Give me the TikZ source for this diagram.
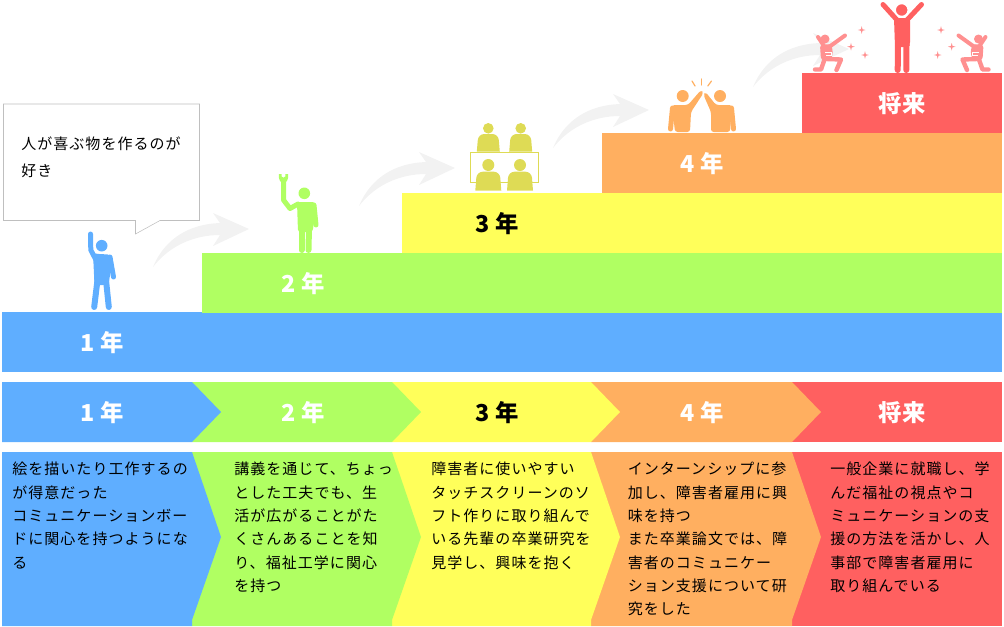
\documentclass[tikz,border=0pt]{standalone}
\usepackage{fontspec}
\setmainfont{Noto Sans CJK JP}[LetterSpace=7]
\newfontfamily\jpbold{Noto Sans CJK JP}[Scale=1]
\definecolor{ichi}{HTML}{5FAEFF}
\definecolor{ni}{HTML}{B0FF62}
\definecolor{san}{HTML}{FFFF5A}
\definecolor{yon}{HTML}{FFAF60}
\definecolor{mirai}{HTML}{FF6060}
\definecolor{mikan}{HTML}{DEDB55}
\definecolor{usuaka}{HTML}{FF9090}
\definecolor{yajirushi}{HTML}{F2F2F2}
\tikzset{
    nenlabel/.style={font=\jpbold\bfseries\fontsize{17.5}{20}\selectfont},
    setsumei/.style={anchor=north west,inner sep=0pt,align=left,
        font=\fontsize{11.25}{17.5}\selectfont},
    te/.style={line cap=round,line join=round,line width=3.75pt},
    ashi/.style={line cap=round,line join=round,line width=4.5pt}
}
\begin{document}
\begin{tikzpicture}[x=0.75pt,y=-0.75pt]
            \useasboundingbox (0,0) rectangle (1004,626);

            % 階段
            \foreach \sx/\sy/\scol in {2/312/ichi,202/253/ni,402/193/san,602/133/yon,802/73/mirai}
                \fill[\scol] (\sx,\sy) rectangle (1002,\sy+60);
            \fill[white] (0,372) rectangle (1004,382);
            \node[nenlabel,white] (kai1) at (102,343) {1 年};
            \node[nenlabel,white] (kai2) at (303,284) {2 年};
            \node[nenlabel] (kai3) at (497,224) {3 年};
            \node[nenlabel,white] (kai4) at (702,164) {4 年};
            \node[nenlabel,white] (kai5) at (902,104) {将来};

            % 矢印
            \foreach \dx/\dy in {0/0,206/-61,400/-119,600/-180}
                \fill[yajirushi,shift={(\dx,\dy)}] (153,267)
                    .. controls (165,238) and (190,224) .. (220,223)
                    -- (213,213) -- (249,229) -- (213,246) -- (220,235)
                    .. controls (195,235) and (170,245) .. (153,267) -- cycle;

            % 帯
            \fill[mirai] (792,382) rectangle (1002,442);
            \foreach \xa/\xb/\scol in {591/792/yon,392/591/san,192/392/ni,2/192/ichi}
                \fill[\scol] (\xa,382) -- (\xb,382) -- (\xb+29,412) -- (\xb,442) -- (\xa,442) -- cycle;
            \node[nenlabel,white] (obi1) at (102,413) {1 年};
            \node[nenlabel,white] (obi2) at (303,413) {2 年};
            \node[nenlabel] (obi3) at (497,413) {3 年};
            \node[nenlabel,white] (obi4) at (702,413) {4 年};
            \node[nenlabel,white] (obi5) at (902,413) {将来};

            % 説明
            \fill[mirai] (792,452) rectangle (1002,626);
            \foreach \xa/\xb/\scol in {591/792/yon,392/591/san,192/392/ni,2/192/ichi}
                \fill[\scol] (\xa,452) -- (\xb,452) -- (\xb+29,537) -- (\xb,620) -- (\xb,626) -- (\xa,626) -- cycle;
            \node[setsumei] (text1) at (12,462) {絵を描いたり工作するの\\が得意だった\\コミュニケーションボー\\ドに関心を持つようにな\\る};
            \node[setsumei] (text2) at (234,462) {講義を通じて、ちょっ\\とした工夫でも、生\\活が広がることがた\\くさんあることを知\\り、福祉工学に関心\\を持つ};
            \node[setsumei] (text3) at (431,462) {障害者に使いやすい\\タッチスクリーンのソ\\フト作りに取り組んで\\いる先輩の卒業研究を\\見学し、興味を抱く};
            \node[setsumei] (text4) at (627.5,462) {インターンシップに参\\加し、障害者雇用に興\\味を持つ\\また卒業論文では、障\\害者のコミュニケー\\ション支援について研\\究をした};
            \node[setsumei] (text5) at (830,462) {一般企業に就職し、学\\んだ福祉の視点やコ\\ミュニケーションの支\\援の方法を活かし、人\\事部で障害者雇用に\\取り組んでいる};

            % 吹き出し
            \draw[draw=black!25,fill=white] (3.5,104) -- (199.5,104) -- (199.5,220.5) -- (160,220.5)
                -- (135.5,234) -- (135.5,220.5) -- (3.5,220.5) -- cycle;
            \node[setsumei,font=\fontsize{11.25}{20}\selectfont] (fukidashi) at (21,136.5) {人が喜ぶ物を作るのが\\好き};

            % 1年
            \fill[ichi] (101.7,245.7) circle (5.8);
            \draw[te,ichi] (90.5,234) -- (90.8,250) -- (96,260);
            \draw[te,ichi] (110,257) -- (113.5,277);
            \fill[ichi,rounded corners=2] (93,253) -- (98,254) -- (110,254.5) -- (112,262) -- (108.5,285) -- (94.5,285) -- cycle;
            \draw[ashi,ichi] (97.5,280) -- (94.2,307);
            \draw[ashi,ichi] (106,280) -- (108.8,307);

            % 2年
            \fill[ni] (304.3,193.3) circle (5.8);
            \fill[ni] (279,174) -- (281.5,174) -- (281.5,176.5) .. controls (281.8,178) and (285,178) .. (285.3,176.5)
                -- (285.3,174) -- (288,174) .. controls (289,180) and (286,183) .. (283.5,183) .. controls (281,183) and (278,180) .. (279,174) -- cycle;
            \draw[te,ni] (283.5,182) -- (283.5,200) -- (290,208.5) -- (298,204);
            \draw[te,ni] (314,205) -- (316,225);
            \fill[ni,rounded corners=2] (297,202) -- (315,202) -- (316,210) -- (312.5,232) -- (298,232) -- cycle;
            \draw[ashi,ni] (301.5,228) -- (301.5,250);
            \draw[ashi,ni] (309,228) -- (308.5,250);

            % 3年
            \draw[mikan] (470.7,152.3) rectangle (538.3,182.3);
            \foreach \cx/\cy/\rr/\yt/\yb/\hw in {488.3/128.3/5.3/134/151.7/11.5,520.7/128.3/5.3/134/151.7/11.5,
                    488.3/165/6/171.7/190.7/13,520/165/6/171.7/190.7/13} {
                \fill[mikan] (\cx,\cy) circle (\rr);
                \fill[mikan] (\cx-\hw,\yb) [rounded corners=4.5pt] -- (\cx-\hw+1.5,\yt) -- (\cx+\hw-1.5,\yt) [sharp corners] -- (\cx+\hw,\yb) -- cycle;
            }

            % 4年
            \fill[yon] (682.7,96) circle (6);
            \fill[yon] (720,96) circle (6);
            \draw[te,yon] (672.5,108) -- (670.5,129);
            \draw[te,yon] (731.5,108) -- (733.5,129);
            \fill[yon,rounded corners=2] (672,105) -- (688,105) -- (701,90) -- (703.5,93) -- (691,112) -- (690,132) -- (675,132) -- cycle;
            \fill[yon,rounded corners=2] (732,105) -- (716,105) -- (705.5,92) -- (703.5,95) -- (711,112) -- (711,132) -- (730,132) -- cycle;
            \draw[yon,line width=0.9pt,line cap=round] (692,81) -- (695,86);
            \draw[yon,line width=0.9pt,line cap=round] (701.7,79) -- (701.7,85);
            \draw[yon,line width=0.9pt,line cap=round] (711.5,81) -- (707.8,86);

            % 将来
            \draw[te,mirai] (883,4.5) -- (897,20);
            \draw[te,mirai] (921.5,4.5) -- (907,20);
            \fill[mirai,rounded corners=2] (894,18) -- (910,18) -- (910,45) -- (908,47) -- (895,47) -- cycle;
            \draw[ashi,mirai] (898,44) -- (897.7,70);
            \draw[ashi,mirai] (906.5,44) -- (906.3,70);
            \draw[fill=mirai,draw=white,line width=1.2pt] (901.7,10) circle (6.6);
            \foreach \kx/\ks in {0/1,1803.5/-1} {
                \begin{scope}[shift={(\kx,0)},xscale=\ks]
                    \fill[usuaka] (825,39) circle (4.5);
                    \draw[usuaka,line width=3pt,line cap=round] (829,47) -- (845,35.5);
                    \draw[usuaka,line width=3pt,line cap=round] (818,37) -- (824,46);
                    \fill[usuaka,rounded corners=2] (820,45) -- (831,44) -- (833,52) -- (831,60) -- (821,60) -- cycle;
                    \draw[white,line width=0.3pt] (825,52) -- (831,52) -- (831,55) -- (826,55);
                    \draw[usuaka,line width=3.3pt,line cap=round,line join=round] (826,59) -- (841,59.5) -- (836.5,70);
                    \draw[usuaka,line width=3.3pt,line cap=round,line join=round] (825,58) -- (821,69.5) -- (815,69.5);
                \end{scope}
            }
            \foreach \px/\py in {861.7/30,851/46.7,865/55,941/30,951.7/46.7,937.7/55}
                \fill[usuaka] (\px,\py-3.8) -- (\px+.8,\py-.8) -- (\px+3.8,\py) -- (\px+.8,\py+.8)
                    -- (\px,\py+3.8) -- (\px-.8,\py+.8) -- (\px-3.8,\py) -- (\px-.8,\py-.8) -- cycle;
        \end{tikzpicture}
\end{document}
